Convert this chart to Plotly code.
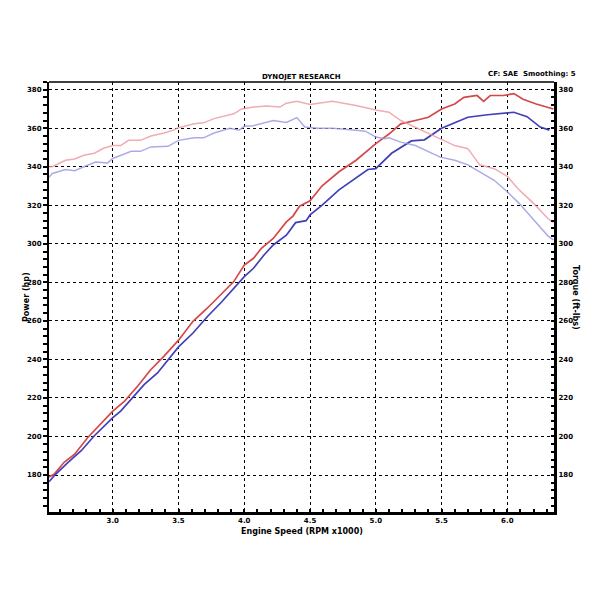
import plotly.graph_objects as go

# engine speed (RPM x1000) and readings for the two runs
rpm_a = [2.515, 2.555, 2.63, 2.71, 2.81, 2.88, 3.0, 3.09, 3.19, 3.29, 3.39, 3.5,
         3.61, 3.72, 3.82, 3.92, 4.0, 4.07, 4.13, 4.22, 4.32, 4.37, 4.42, 4.5,
         4.59, 4.72, 4.85, 5.0, 5.1, 5.19, 5.3, 5.4, 5.5, 5.6, 5.67, 5.77, 5.82,
         5.87, 5.97, 6.05, 6.12, 6.22, 6.35]
power_a = [179, 180.5, 186.6, 190.8, 199.5, 204.6, 213.2, 218.4, 226.2, 234.8, 241.7, 250,
           259.8, 266.7, 273.5, 280.4, 289, 292.5, 297.7, 302.8, 311.4, 314.4, 319.5, 322.3,
           330, 337.4, 343.4, 352, 357, 362.3, 364, 365.7, 370, 372.6, 376, 377, 374,
           377, 377, 378, 375, 372.6, 370]

rpm_b = [2.515, 2.555, 2.66, 2.76, 2.86, 3.0, 3.06, 3.14, 3.24, 3.34, 3.5, 3.61,
         3.72, 3.82, 3.92, 4.0, 4.07, 4.15, 4.22, 4.32, 4.39, 4.47, 4.5, 4.59,
         4.72, 4.85, 4.94, 5.0, 5.12, 5.27, 5.37, 5.5, 5.6, 5.7, 5.85, 5.97, 6.05,
         6.15, 6.25, 6.32]
power_b = [176.5, 179.7, 186.6, 192.6, 200.4, 209.8, 213.2, 219.3, 227, 233, 246.5, 253.7,
           262.3, 269.3, 277, 283, 287.3, 294.2, 299.4, 304.5, 311, 312, 315, 320,
           328, 334, 338.6, 339, 347, 353.4, 354, 360, 363, 365.7, 367, 367.8, 368.3,
           366, 360.6, 359]

rpm_ta = [2.515, 2.54, 2.64, 2.71, 2.78, 2.86, 2.93, 3.0, 3.06, 3.12, 3.21, 3.29, 3.39, 3.46,
          3.5, 3.62, 3.69, 3.77, 3.92, 3.98, 4.07, 4.17, 4.27, 4.32, 4.4, 4.5, 4.67,
          4.85, 5.0, 5.1, 5.19, 5.3, 5.4, 5.49, 5.6, 5.7, 5.79, 5.9, 6.0, 6.09, 6.2,
          6.31, 6.35]
torque_a = [340, 340, 343.4, 344, 346, 347, 349.6, 351, 351, 353.7, 353.7, 356, 357.5, 359,
            360.3, 362.3, 362.8, 365, 367.5, 370, 371, 371.5, 371, 373, 374, 372.3, 374,
            371.8, 369.5, 368.3, 364, 360.6, 357.5, 354.6, 351, 349.4, 341, 339, 335, 328, 321,
            313, 311]

rpm_tb = [2.515, 2.54, 2.64, 2.71, 2.78, 2.87, 2.96, 3.0, 3.14, 3.21, 3.29, 3.42, 3.5,
          3.62, 3.69, 3.77, 3.89, 3.96, 4.0, 4.07, 4.22, 4.32, 4.4, 4.46, 4.56, 4.67,
          4.85, 4.92, 5.0, 5.07, 5.1, 5.19, 5.3, 5.4, 5.49, 5.6, 5.7, 5.79, 5.9, 6.0,
          6.09, 6.2, 6.31, 6.35]
torque_b = [334.5, 336.5, 338.6, 338, 340, 342.5, 342, 344.3, 348, 348, 350.3, 350.6, 353.7,
            355, 355, 357.5, 360, 359, 361, 361.3, 364, 363, 365.5, 360.6, 360, 360,
            359, 358.5, 355.4, 354.6, 355, 352.8, 351, 348, 345, 343.4, 341, 337.4, 333, 327,
            321, 312.5, 304, 302]

x_ticks = [3.0, 3.5, 4.0, 4.5, 5.0, 5.5, 6.0]
y_ticks = list(range(180, 381, 20))

font = dict(family="DejaVu Sans", size=7, color="black", weight="bold")

fig = go.Figure()
fig.add_trace(go.Scatter(x=rpm_ta, y=torque_a, mode="lines", yaxis="y2",
                         line=dict(color="rgba(238,150,160,0.8)", width=1.5)))
fig.add_trace(go.Scatter(x=rpm_tb, y=torque_b, mode="lines", yaxis="y2",
                         line=dict(color="rgba(150,150,225,0.8)", width=1.5)))
fig.add_trace(go.Scatter(x=rpm_a, y=power_a, mode="lines",
                         line=dict(color="#d44848", width=1.7)))
fig.add_trace(go.Scatter(x=rpm_b, y=power_b, mode="lines",
                         line=dict(color="#4040b8", width=1.7)))

grid = dict(showgrid=True, gridcolor="black", gridwidth=1, griddash="dot", zeroline=False)

fig.update_layout(
    width=600, height=600, showlegend=False,
    paper_bgcolor="white", plot_bgcolor="white",
    margin=dict(l=41, r=54, t=74, b=96),
    font=font,
    xaxis=dict(range=[2.515, 6.355], tickvals=x_ticks, ticktext=["%.1f" % v for v in x_ticks],
               ticks="inside", ticklen=3, tickwidth=1.5, tickcolor="black",
               minor=dict(dtick=0.1, ticks="inside", ticklen=3, tickcolor="black", showgrid=False),
               showline=True, linecolor="black", linewidth=3,
               tickfont=font, **grid),
    yaxis=dict(range=[160.8, 384], tickvals=y_ticks, ticks="outside", ticklen=4,
               tickwidth=1.5, tickcolor="black",
               minor=dict(dtick=4, ticks="outside", ticklen=4, tickcolor="black", showgrid=False),
               showline=True, linecolor="black", linewidth=2,
               tickfont=font, **grid),
    yaxis2=dict(overlaying="y", side="right", matches="y", tickvals=y_ticks,
                ticks="inside", ticklen=3, tickwidth=1.5, tickcolor="black",
                minor=dict(dtick=4, ticks="inside", ticklen=3, tickcolor="black", showgrid=False),
                showline=True, linecolor="black", linewidth=3, showgrid=False, zeroline=False,
                tickfont=font),
    shapes=[dict(type="line", xref="paper", yref="paper", x0=0, x1=1, y0=1, y1=1,
                 line=dict(color="black", width=1.5))],
    annotations=[
        dict(text="DYNOJET RESEARCH", xref="paper", yref="paper", x=0.5, y=1.0,
             yanchor="bottom", yshift=-1, showarrow=False, font=dict(size=7)),
        dict(text="CF: SAE  Smoothing: 5", xref="paper", yref="paper", x=1.0, y=1.0,
             xanchor="right", xshift=24, yanchor="bottom", yshift=2, showarrow=False,
             font=dict(size=7)),
        dict(text="Engine Speed (RPM x1000)", xref="paper", yref="paper", x=0.5, y=0,
             yanchor="top", yshift=-13, showarrow=False, font=dict(size=8)),
        dict(text="Power (hp)", xref="paper", yref="paper", x=0, y=0.5, xshift=-23,
             xanchor="center", yanchor="middle", textangle=-90, showarrow=False,
             font=dict(size=8)),
        dict(text="Torque (ft-lbs)", xref="paper", yref="paper", x=1, y=0.5, xshift=22,
             xanchor="center", yanchor="middle", textangle=90, showarrow=False,
             font=dict(size=8)),
    ],
)

fig.write_html("out.html")
